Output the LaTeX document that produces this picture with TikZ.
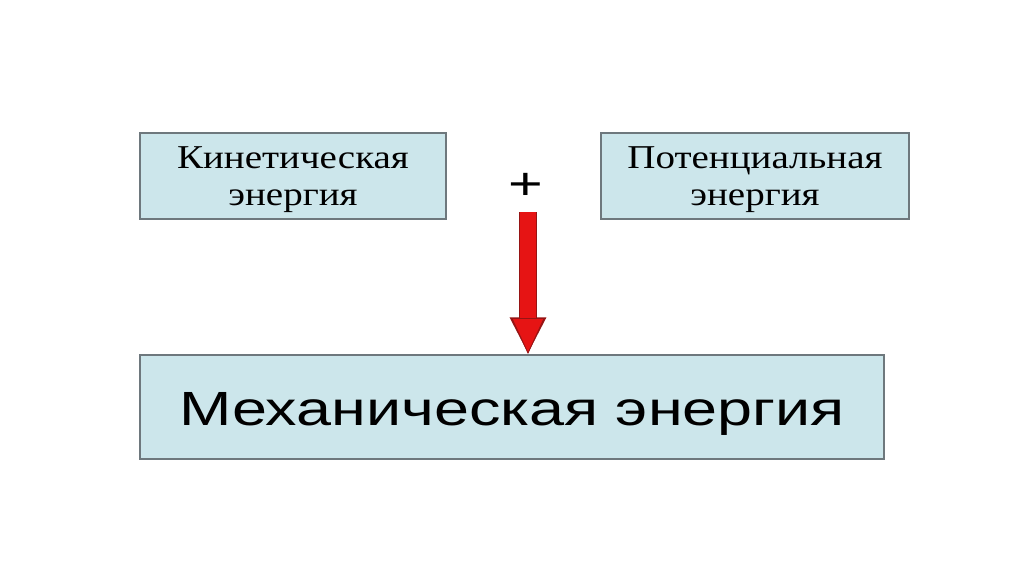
\documentclass[tikz,border=0pt]{standalone}
\usepackage{fontspec}
\setmainfont[FakeStretch=1.17]{Liberation Serif}
\newfontfamily\mechfont[FakeStretch=1.31]{Liberation Sans}
\usetikzlibrary{arrows.meta}
\definecolor{boxfill}{RGB}{204,230,235}
\definecolor{boxline}{RGB}{110,120,125}
\definecolor{arrred}{RGB}{230,20,20}
\definecolor{arrdark}{RGB}{150,20,20}
\tikzset{
  energybox/.style={draw=boxline, line width=0.9, fill=boxfill, align=center, inner sep=0pt},
  blockarrow/.style={draw=arrred, line width=12.5, -{Triangle[width=24.75pt, length=27pt, fill=arrred, color=arrdark, line width=0.6pt]}, shorten >=0.3pt,
    preaction={draw=arrdark, line width=13.7, -{Triangle[width=25.5pt, length=27.5pt]}}}
}
\begin{document}
\begin{tikzpicture}[x=0.75pt,y=0.75pt,yscale=-1,xscale=1]
\useasboundingbox (0,0) rectangle (1024,574);

%Shape: Rectangle [id:kinetic]
\node [energybox, minimum width=306*0.75pt, minimum height=86*0.75pt, text depth=0pt, font=\fontsize{25}{28}\selectfont] (kin) at (293,176) {Кинетическая\\энергия};
%Shape: Rectangle [id:potential]
\node [energybox, minimum width=308*0.75pt, minimum height=86*0.75pt, text depth=0pt, font=\fontsize{25}{28}\selectfont] (pot) at (755,176) {Потенциальная\\энергия};
%Shape: Rectangle [id:mechanical]
\node [energybox, minimum width=744*0.75pt, minimum height=104*0.75pt, text height=35pt, text depth=8pt, font=\mechfont\fontsize{36}{40}\selectfont] (mech) at (512,407) {Механическая энергия};

% Text Node
\node [font=\mechfont\fontsize{34}{38}\selectfont] (plus) at (526,186) {+};
\coordinate (arrtop) at (528,212);

%Block Arrow
\draw [blockarrow] (arrtop) -- (mech.north -| arrtop);

\end{tikzpicture}
\end{document}
